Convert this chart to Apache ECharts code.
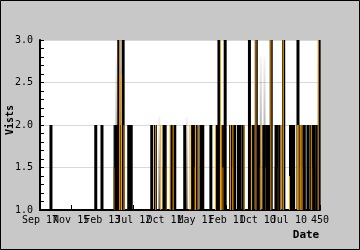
<!DOCTYPE html>
<html><head><meta charset="utf-8">
<script src="https://cdn.jsdelivr.net/npm/echarts@6/dist/echarts.min.js"></script>
<style>html,body{margin:0;padding:0;background:#c8c8c8}#c{width:360px;height:250px}</style>
</head><body><div id="c"></div>
<script>
// x tick labels (one per 50 samples)
const xTickLabels = ["Sep 17","Nov 15","Feb 13","Jul 12","Oct 11","May 11","Feb 11","Oct 10","Jul 10","450"];
const yTickLabels = ["1.0","1.5","2.0","2.5","3.0"];
// black visits bars: [sample index, visits]
const blackBars = [[16,2],[88,2],[98,2],[121,2],[125,3],[132,3],[141,2],[145,2],[178,2],[184,2],[198,2],[210,2],[215,2],[231,2],[244,2],[251,2],[257,2],[260,2],[273,2],[283,2],[286,3],[296,3],[305,2],[311,2],[317,2],[320,2],[325,2],[335,3],[341,2],[346,3],[349,2],[358,2],[364,2],[368,2],[370,3],[378,2],[384,2],[390,3],[401,2],[406,2],[413,3],[418,2],[423,2],[429,2],[434,2],[439,2],[444,2],[448,3]];
// orange bars
const orangeBars = [[128,3],[131,2.6],[135,2],[186,2],[194,2],[209,2],[214,2],[241,2],[250,2],[254,2],[282,2],[290,3],[291,2],[306,2],[310,2],[328,2],[340,2],[347,3],[355,2],[371,3],[387,2],[391,3],[401,1.4],[414,2],[416,2],[419,2],[421,2],[436,2],[447,3]];
// dark bars and their brown under-part
const darkBars = [[119,2],[130,2],[198,2],[211,2],[244,2],[283,2],[292,2],[305,2],[349,2],[360,2],[366,2],[378,2],[403,2],[416,2],[421,2],[437,2]];
const lowBars = [[119,1.5],[130,1.5],[198,1.5],[211,1.5],[244,1.5],[283,1.5],[292,1.5],[305,1.5],[349,1.5],[360,1.5],[366,1.5],[378,1.5],[403,1.5],[416,1.5],[421,1.5],[437,1.5]];
// faded haze bars
const hazeBars = [[122,2.8],[129,2.7],[191,2.1],[235,2.1],[288,2.8],[354,2.8],[360,2.8],[392,2.9],[447,2.8]];

const mono = '"DejaVu Sans Mono", monospace';
const chart = echarts.init(document.getElementById('c'), null, {renderer:'canvas'});
const xBase = {type:'value',min:0,max:450,interval:50,gridIndex:0,position:'bottom'};
chart.setOption({
  animation:false,
  backgroundColor:'#c8c8c8',
  grid:{left:40,right:40,top:40,bottom:40,show:true,backgroundColor:'#ffffff',borderWidth:0,containLabel:false,outerBoundsMode:'none'},
  xAxis:[
    Object.assign({},xBase,{
      axisLine:{show:true,onZero:false,lineStyle:{color:'#000',width:2}},
      axisTick:{show:true,inside:true,length:5,lineStyle:{color:'#000',width:1}},
      splitLine:{show:false},
      axisLabel:{show:true,showMinLabel:false,showMaxLabel:true,margin:5,color:'#000',fontFamily:mono,fontSize:10,
        formatter:v=>xTickLabels[Math.round(v/50)]}}),
    Object.assign({},xBase,{
      axisLine:{show:false,onZero:false},axisTick:{show:false},splitLine:{show:false},
      axisLabel:{show:true,showMinLabel:true,showMaxLabel:false,margin:5,color:'#000',fontFamily:mono,fontSize:10,
        formatter:v=>(Math.round(v/50)===0?xTickLabels[0]:'')}})
  ],
  yAxis:{type:'value',min:1,max:3,interval:0.5,
    axisLine:{show:true,onZero:false,lineStyle:{color:'#000',width:2}},
    axisTick:{show:true,inside:true,length:4,lineStyle:{color:'#000',width:1}},
    minorTick:{show:true,splitNumber:5,length:4,lineStyle:{color:'#000',width:1}},
    splitLine:{show:true,lineStyle:{color:'#d9d9d9',width:1}},
    axisLabel:{margin:7,color:'#000',fontFamily:mono,fontSize:10,
      formatter:v=>yTickLabels[Math.round((v-1)/0.5)]}},
  series:[
    {type:'bar',data:hazeBars,barWidth:2,barGap:'-100%',clip:true,
      itemStyle:{color:new echarts.graphic.LinearGradient(0,0,0,1,[{offset:0,color:'rgba(0,0,0,0.04)'},{offset:1,color:'rgba(0,0,0,0.6)'}])}},
    {type:'bar',data:darkBars,barWidth:4,barGap:'-100%',clip:true,itemStyle:{color:'#141414'}},
    {type:'bar',data:lowBars,barWidth:4,barGap:'-100%',clip:true,itemStyle:{color:'#7a4e00'}},
    {type:'bar',data:blackBars,barWidth:3,barGap:'-100%',clip:true,itemStyle:{color:'#000'}},
    {type:'bar',data:orangeBars,barWidth:1,barGap:'-100%',clip:true,itemStyle:{color:'#f5a000'}}
  ],
  graphic:[
    {type:'rect',shape:{x:0.5,y:0.5,width:359,height:249},style:{fill:null,stroke:'#000',lineWidth:1},silent:true},
    {type:'text',x:10,y:120,rotation:Math.PI/2,style:{text:'Vists',font:'bold 10px '+mono,fill:'#000',align:'center',verticalAlign:'middle'}},
    {type:'text',x:306,y:235,style:{text:'Date',font:'bold 11px '+mono,fill:'#000',align:'center',verticalAlign:'middle'}}
  ]
});
</script></body></html>
